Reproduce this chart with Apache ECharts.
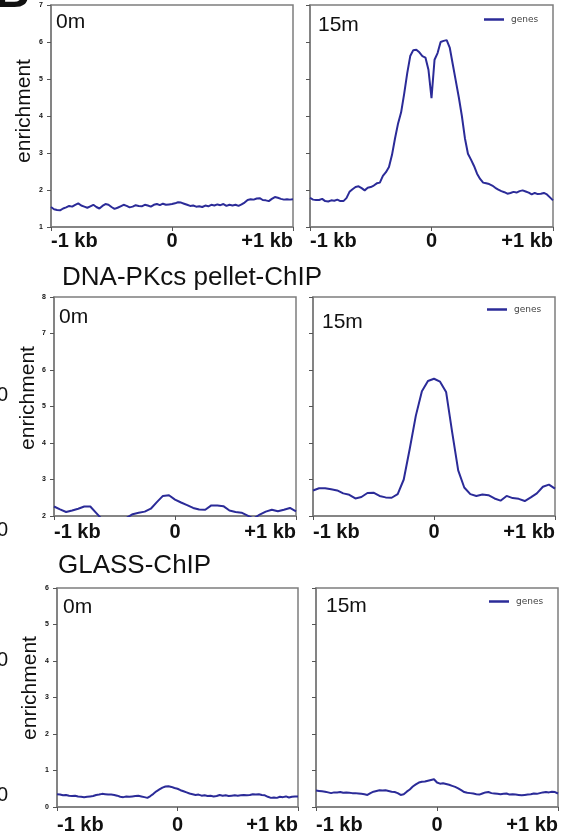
<!DOCTYPE html>
<html>
<head>
<meta charset="utf-8">
<script src="https://cdn.jsdelivr.net/npm/echarts@6/dist/echarts.min.js"></script>
<style>
html,body{margin:0;padding:0;background:#fff;}
#chart{width:566px;height:835px;}
</style>
</head>
<body>
<div id="chart"></div>
<script>
// ---- data ----
const rowTitles = ['DNA-PKcs pellet-ChIP', 'GLASS-ChIP'];
const panelLabels = ['0m', '15m'];
const xTickLabels = { '-1': '-1 kb', '0': '0', '1': '+1 kb' };
const seriesName = 'genes';

// bin centres (kb from site)
const binsFine = [];
for (let i = 0; i <= 80; i++) binsFine.push(+(-1 + i * 0.025).toFixed(3));
const binsCoarse = [];
for (let i = 0; i <= 40; i++) binsCoarse.push(+(-1 + i * 0.05).toFixed(3));

// top row (chromatin ChIP), y 1-7
const chip0m = [1.54,1.48,1.46,1.45,1.50,1.53,1.57,1.55,1.60,1.64,
  1.58,1.55,1.52,1.56,1.60,1.54,1.50,1.57,1.62,1.60,
  1.54,1.49,1.52,1.56,1.60,1.57,1.53,1.55,1.59,1.57,
  1.56,1.60,1.58,1.55,1.60,1.62,1.59,1.63,1.60,1.61,
  1.62,1.64,1.67,1.66,1.63,1.60,1.57,1.58,1.55,1.56,
  1.54,1.58,1.56,1.60,1.58,1.61,1.59,1.62,1.57,1.60,
  1.58,1.60,1.57,1.61,1.66,1.73,1.75,1.74,1.77,1.78,
  1.73,1.72,1.70,1.76,1.81,1.79,1.76,1.74,1.75,1.74,1.75];
const chip15m = [1.79,1.74,1.73,1.73,1.76,1.70,1.69,1.72,1.71,1.74,
  1.70,1.70,1.78,1.95,2.02,2.08,2.10,2.05,1.99,2.06,
  2.08,2.12,2.18,2.20,2.38,2.48,2.62,2.95,3.40,3.80,
  4.10,4.60,5.15,5.62,5.78,5.79,5.72,5.62,5.58,5.25,
  4.48,5.52,5.70,6.00,6.03,6.05,5.85,5.40,4.95,4.50,
  4.00,3.40,2.98,2.82,2.65,2.44,2.30,2.20,2.18,2.16,
  2.12,2.06,2.01,1.97,1.94,1.90,1.92,1.95,1.93,1.97,
  1.99,1.96,1.93,1.88,1.92,1.89,1.90,1.92,1.88,1.80,1.72];

// middle row (DNA-PKcs pellet-ChIP), y 2-8
const pellet0m = [2.26,2.18,2.11,2.15,2.20,2.26,2.26,2.08,1.90,1.80,
  1.75,1.80,1.95,2.05,2.09,2.12,2.20,2.38,2.55,2.57,
  2.45,2.37,2.30,2.22,2.18,2.17,2.29,2.29,2.27,2.15,
  2.11,2.09,2.01,1.93,2.04,2.12,2.17,2.13,2.17,2.22,2.13];
const pellet15m = [2.70,2.76,2.76,2.73,2.70,2.62,2.58,2.48,2.52,2.63,
  2.64,2.55,2.51,2.50,2.60,3.00,3.85,4.75,5.42,5.70,
  5.76,5.68,5.40,4.30,3.25,2.78,2.60,2.55,2.59,2.57,
  2.48,2.42,2.55,2.49,2.47,2.41,2.51,2.62,2.80,2.86,2.75];

// bottom row (GLASS-ChIP), y 0-6
const glass0m = [0.35,0.34,0.32,0.33,0.31,0.30,0.31,0.29,0.28,0.27,
  0.28,0.29,0.30,0.33,0.34,0.36,0.35,0.34,0.34,0.33,
  0.31,0.28,0.27,0.29,0.28,0.29,0.30,0.31,0.29,0.27,
  0.25,0.30,0.36,0.43,0.48,0.53,0.56,0.57,0.55,0.52,
  0.50,0.46,0.43,0.40,0.37,0.35,0.33,0.34,0.31,0.32,
  0.30,0.31,0.29,0.30,0.33,0.31,0.32,0.30,0.31,0.32,
  0.31,0.32,0.33,0.32,0.33,0.35,0.34,0.35,0.33,0.32,
  0.28,0.25,0.26,0.25,0.28,0.27,0.29,0.26,0.28,0.29,0.29];
const glass15m = [0.45,0.44,0.43,0.42,0.40,0.38,0.40,0.40,0.41,0.39,
  0.40,0.39,0.38,0.38,0.37,0.36,0.35,0.33,0.38,0.42,
  0.44,0.46,0.45,0.46,0.44,0.42,0.41,0.38,0.33,0.35,
  0.42,0.48,0.56,0.62,0.67,0.69,0.70,0.72,0.74,0.76,
  0.67,0.64,0.65,0.63,0.61,0.58,0.55,0.51,0.46,0.41,
  0.39,0.38,0.37,0.35,0.34,0.37,0.40,0.41,0.38,0.37,
  0.36,0.35,0.36,0.37,0.34,0.35,0.34,0.33,0.32,0.33,
  0.34,0.35,0.37,0.36,0.38,0.40,0.41,0.40,0.42,0.41,0.37];

const yRanges = [[1, 7], [2, 8], [0, 6]];

// ---- build ----
const panels = [
  { x: binsFine, y: chip0m, row: 0, col: 0 },
  { x: binsFine, y: chip15m, row: 0, col: 1 },
  { x: binsCoarse, y: pellet0m, row: 1, col: 0 },
  { x: binsCoarse, y: pellet15m, row: 1, col: 1 },
  { x: binsFine, y: glass0m, row: 2, col: 0 },
  { x: binsFine, y: glass15m, row: 2, col: 1 }
];
const grids = [
  { left: 51, top: 5, width: 242, height: 222 },
  { left: 310, top: 5, width: 243, height: 222 },
  { left: 54, top: 297, width: 242, height: 219 },
  { left: 313, top: 297, width: 242, height: 219 },
  { left: 57, top: 588, width: 241, height: 219 },
  { left: 316, top: 588, width: 242, height: 219 }
];
const xMargins = [4, 6, 8];
const AX = '#7d7d7d';
const LINE = '#2b2b98';
const FONT = '"Liberation Sans", Arial, sans-serif';

const option = {
  backgroundColor: '#fff',
  animation: false,
  grid: grids.map(g => Object.assign({ show: true, borderColor: AX, borderWidth: 1.5, containLabel: false }, g)),
  xAxis: panels.map((p, i) => ({
    type: 'value', gridIndex: i, min: -1, max: 1, interval: 1,
    axisLine: { show: true, onZero: false, lineStyle: { color: AX, width: 1.5 } },
    axisTick: { show: true, length: 4, lineStyle: { color: '#555', width: 1 } },
    splitLine: { show: false },
    axisLabel: {
      show: true, margin: xMargins[p.row], fontSize: 20, fontWeight: 'bold', color: '#111', fontFamily: FONT,
      showMinLabel: true, showMaxLabel: true, alignMinLabel: 'left', alignMaxLabel: 'right',
      padding: [0, 0, 0, 0],
      formatter: v => xTickLabels[String(Math.round(v))]
    }
  })),
  yAxis: panels.map((p, i) => ({
    type: 'value', gridIndex: i, min: yRanges[p.row][0], max: yRanges[p.row][1], interval: 1,
    axisLine: { show: true, onZero: false, lineStyle: { color: AX, width: 1.5 } },
    axisTick: { show: true, length: 4, lineStyle: { color: '#555', width: 1 } },
    splitLine: { show: false },
    axisLabel: { show: p.col === 0, margin: 8, fontSize: 7, fontWeight: 'bold', color: '#111', fontFamily: FONT }
  })),
  legend: [
    { left: 484, top: 15 },
    { left: 487, top: 305 },
    { left: 489, top: 597 }
  ].map(pos => Object.assign({
    data: [seriesName], selectedMode: false, padding: 0, icon: 'rect',
    itemWidth: 20, itemHeight: 2.5, itemGap: 6,
    textStyle: { fontSize: 9, color: '#444', fontFamily: '"DejaVu Sans", sans-serif', padding: [0, 0, 0, 2] }
  }, pos)),
  series: panels.map((p, i) => ({
    name: seriesName, type: 'line', xAxisIndex: i, yAxisIndex: i,
    data: p.x.map((xv, k) => [xv, p.y[k]]),
    showSymbol: false, symbol: 'none', clip: true, smooth: false,
    lineStyle: { color: LINE, width: 2 }, itemStyle: { color: LINE }
  })),
  graphic: []
};

const txt = (text, x, y, size, extra) => Object.assign({
  type: 'text', x, y, silent: true,
  style: Object.assign({ text, fill: '#111', font: size + 'px ' + FONT, align: 'left', verticalAlign: 'middle' }, extra || {})
});

// cut-off panel letter
option.graphic.push({ type: 'text', x: -5, y: -30, silent: true,
  style: { text: 'B', fill: '#111', font: 'bold 48px ' + FONT, align: 'left', verticalAlign: 'top' } });
// row titles
option.graphic.push(txt(rowTitles[0], 62, 278, 26));
option.graphic.push(txt(rowTitles[1], 58, 566, 26));
// panel time labels
const labelPos = [[56, 22], [318, 25], [59, 317], [322, 322], [63, 607], [326, 606]];
panels.forEach((p, i) => option.graphic.push(txt(panelLabels[p.col], labelPos[i][0], labelPos[i][1], 21)));
// y-axis names
const yNamePos = [[24, 111], [28, 398], [30, 688]];
yNamePos.forEach(pos => option.graphic.push({
  type: 'text', x: pos[0], y: pos[1], rotation: Math.PI / 2, silent: true,
  style: { text: 'enrichment', fill: '#111', font: '21px ' + FONT, align: 'center', verticalAlign: 'middle' }
}));
// clipped tick labels from neighbouring figure on the left edge
[[395], [530], [660], [795]].forEach(p => option.graphic.push(txt('0', 8, p[0], 20, { align: 'right' })));

const chart = echarts.init(document.getElementById('chart'), null, { renderer: 'canvas' });
chart.setOption(option);
</script>
</body>
</html>
